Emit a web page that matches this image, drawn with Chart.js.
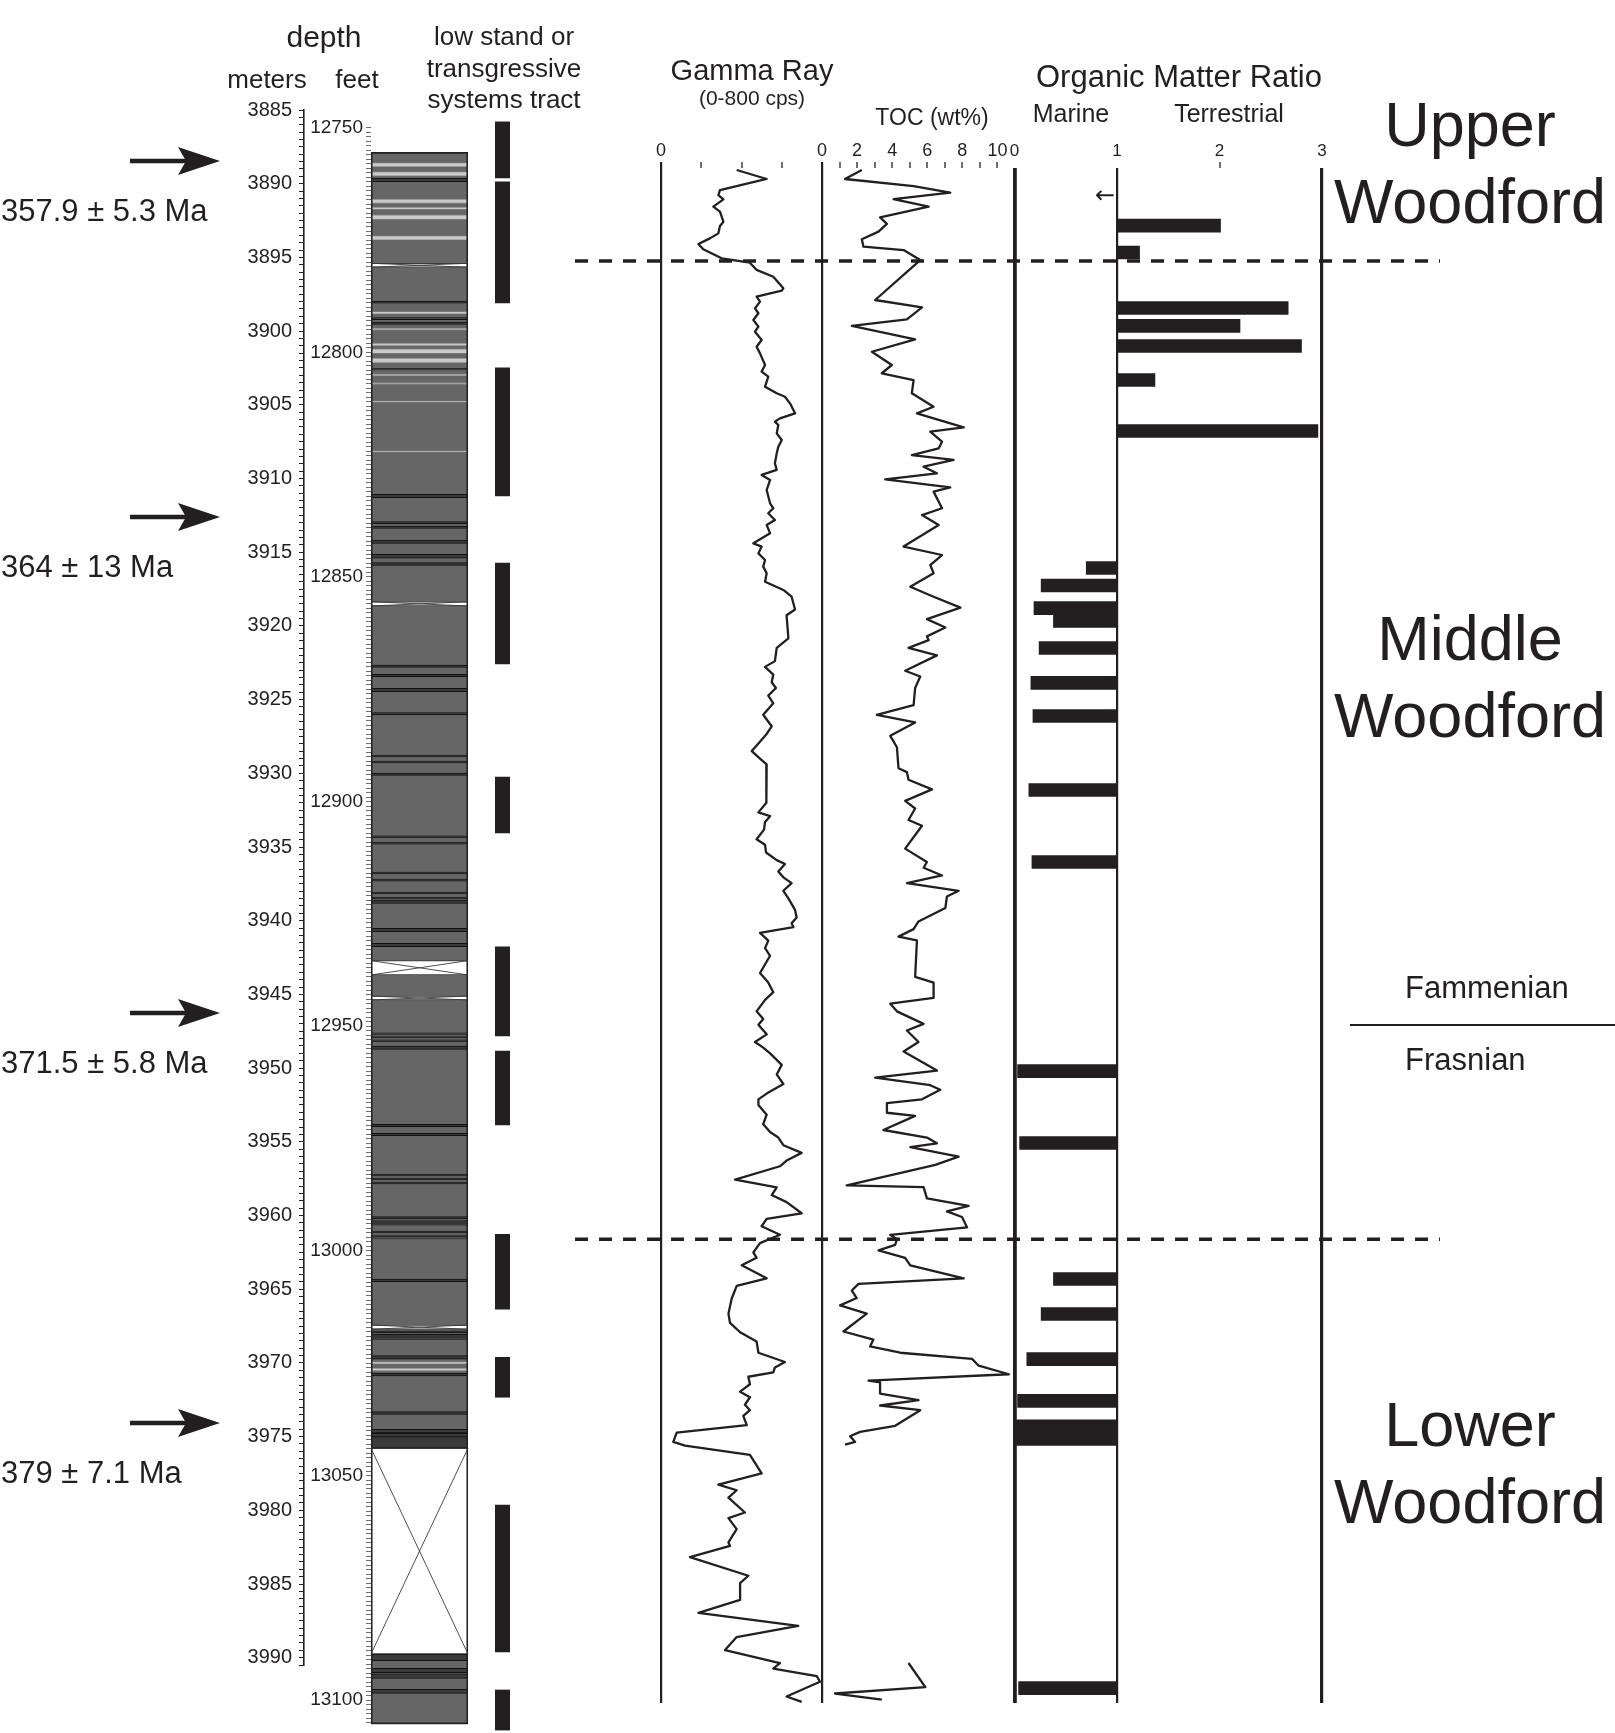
<!DOCTYPE html>
<html>
<head>
<meta charset="utf-8">
<script src="https://cdn.jsdelivr.net/npm/chart.js@4.4.1/dist/chart.umd.min.js"></script>
<style>
  html, body { margin: 0; padding: 0; background: #fff; overflow: hidden; }
  #page { position: relative; width: 1615px; height: 1733px; overflow: hidden; background: #fff; }
  #page canvas { position: absolute; top: 0; }
</style>
</head>
<body>
<div id="page">
  <canvas id="frame" width="1615" height="1800" style="left:0;width:1615px;height:1800px"></canvas>
  <canvas id="meters" width="140" height="1800" style="left:200px;width:140px;height:1800px"></canvas>
  <canvas id="lith" width="210" height="1800" style="left:280px;width:210px;height:1800px"></canvas>
  <canvas id="tract" width="65" height="1800" style="left:470px;width:65px;height:1800px"></canvas>
  <canvas id="gr" width="220" height="1800" style="left:630px;width:220px;height:1800px"></canvas>
  <canvas id="toc" width="240" height="1800" style="left:800px;width:240px;height:1800px"></canvas>
  <canvas id="om" width="360" height="1800" style="left:990px;width:360px;height:1800px"></canvas>
</div>
<script>
// ---------------- Core data (depths in metres) ----------------

// Gamma ray log (cps)
const grDepth = [3889.07,3889.68,3890.43,3890.77,3891.06,3891.56,3891.90,3892.58,3892.87,3893.37,3893.71,3894.09,3894.45,3895.06,3895.36,3895.85,3896.31,3897.10,3897.26,3897.66,3898.00,3898.46,3898.79,3899.25,3899.70,3900.04,3900.60,3901.06,3901.51,3902.30,3902.75,3903.09,3903.77,3904.22,3904.45,3904.90,3905.58,3905.92,3906.14,3906.37,3906.94,3907.39,3907.84,3908.29,3908.97,3909.42,3909.76,3910.10,3910.78,3911.68,3912.02,3912.36,3912.82,3913.15,3913.72,3914.40,3914.62,3915.08,3915.53,3915.98,3916.43,3917.00,3917.56,3918.02,3918.89,3919.28,3920.84,3921.49,3922.39,3922.78,3923.30,3923.82,3924.21,3924.73,3925.25,3926.03,3926.81,3927.33,3927.98,3928.49,3929.01,3929.40,3931.22,3932.00,3932.65,3932.91,3933.30,3933.82,3934.47,3934.85,3935.37,3935.89,3936.15,3936.67,3937.06,3937.45,3937.97,3938.49,3939.27,3939.79,3940.18,3940.44,3940.83,3941.35,3941.86,3942.38,3943.55,3944.20,3944.85,3945.37,3946.15,3946.67,3947.06,3947.71,3948.23,3948.61,3949.00,3949.78,3950.43,3951.08,3951.73,3952.12,3952.51,3953.16,3953.81,3954.33,3954.71,3955.23,3955.75,3956.27,3956.66,3957.57,3958.09,3958.61,3959.09,3959.85,3960.23,3960.73,3961.31,3961.87,3962.50,3962.87,3963.38,3964.26,3964.77,3965.65,3966.66,3967.29,3967.92,3968.55,3969.31,3969.94,3970.31,3970.64,3970.94,3971.45,3971.95,3972.33,3972.84,3973.21,3973.59,3974.22,3974.73,3975.36,3975.61,3976.24,3977.50,3978.26,3978.64,3979.14,3980.15,3980.53,3981.28,3982.17,3982.42,3983.18,3984.44,3984.94,3986.08,3986.96,3987.84,3988.60,3989.48,3990.36,3990.74,3991.25,3991.63,3992.63,3993.00];
const grCps = [376,525,293,285,310,260,293,310,293,285,243,186,210,301,442,475,558,608,600,475,492,467,484,459,484,467,500,475,492,517,500,533,517,575,616,641,666,591,566,583,575,600,583,575,566,575,500,542,525,542,558,533,566,525,542,459,500,484,517,508,525,517,608,649,666,624,633,575,566,517,558,550,571,533,558,508,550,525,484,451,492,525,522,525,484,542,517,512,475,517,522,575,616,583,608,649,608,633,666,674,649,658,492,533,517,542,492,533,558,517,475,508,484,525,467,508,542,600,575,608,525,484,484,525,508,542,583,608,699,624,591,368,575,550,624,699,525,500,591,492,459,475,401,525,376,351,335,343,393,475,484,616,566,558,434,442,393,442,417,442,409,426,78,61,119,442,500,285,376,335,417,335,376,335,343,144,434,393,393,186,682,376,318,591,558,774,790,624,699];

// Total organic carbon (wt%); null marks the unsampled interval
const tocDepth = [3889.07,3889.68,3890.16,3890.61,3891.04,3891.56,3892.28,3892.73,3893.25,3893.77,3894.27,3894.50,3895.18,3897.89,3898.39,3899.20,3899.65,3900.56,3901.40,3902.30,3902.86,3903.32,3904.22,3905.13,3905.58,3906.53,3906.82,3907.50,3907.95,3908.41,3908.74,3909.20,3909.65,3910.06,3910.60,3910.89,3912.02,3912.48,3913.15,3914.62,3915.19,3915.87,3916.43,3917.34,3918.02,3918.76,3919.54,3920.11,3920.71,3920.97,3921.49,3922.00,3923.04,3923.43,3924.21,3925.38,3926.03,3926.55,3927.46,3928.23,3929.66,3929.92,3930.44,3931.09,3931.87,3932.39,3933.17,3933.56,3935.11,3936.02,3936.41,3936.93,3937.45,3937.97,3938.36,3939.14,3940.05,3940.57,3941.08,3941.34,3943.81,3944.20,3945.24,3945.63,3946.15,3947.00,3947.45,3948.23,3948.87,3950.17,3950.64,3951.16,3951.47,3952.12,3952.38,3953.03,3953.24,3954.20,3954.71,3955.10,3955.36,3956.01,3956.57,3957.96,3958.08,3958.84,3959.34,3959.72,3960.10,3960.81,3961.31,3961.61,3961.99,3962.37,3962.87,3963.38,3964.26,3964.64,3965.09,3965.60,3966.10,3966.66,3967.87,3968.42,3968.88,3969.31,3969.73,3970.19,3970.77,3971.20,3971.32,3972.08,3972.53,3972.89,3973.21,3974.27,3974.68,3974.98,3975.36,3975.54,null,3990.36,3992.00,3992.43,3992.84];
const tocWt = [2.27,1.31,5.22,7.31,4.08,6.08,3.31,3.70,3.22,2.27,2.36,4.65,5.60,3.03,5.70,4.84,1.70,5.31,2.84,3.98,3.41,5.22,5.12,6.36,5.41,8.08,6.17,6.84,6.65,5.12,7.50,5.79,6.55,3.60,7.31,6.36,6.84,5.70,6.65,4.65,6.84,6.17,6.36,5.03,6.36,7.89,5.98,7.03,5.98,6.08,4.93,6.55,4.74,5.60,5.31,5.22,3.12,5.31,3.89,4.27,4.36,4.84,4.93,6.27,4.74,5.31,4.93,5.70,4.74,5.98,5.79,6.84,4.84,7.79,7.12,7.03,5.50,5.22,4.36,5.41,5.31,6.36,6.36,3.89,4.27,5.79,4.84,5.50,4.65,6.55,3.03,6.17,6.74,5.70,3.70,3.70,5.31,3.50,5.98,6.55,5.03,7.79,6.46,1.41,5.79,5.98,8.36,7.12,7.98,8.27,3.89,4.27,4.17,3.22,4.74,5.03,8.08,2.08,1.70,1.98,1.03,2.55,1.22,2.93,2.74,4.46,8.55,8.93,10.65,2.65,3.31,3.31,5.50,3.31,5.60,4.17,2.17,1.60,1.89,1.31,null,4.93,5.89,0.74,3.41];

// Organic matter ratio (marine < 1 < terrestrial)
const omDepth = [3892.84,3894.67,3898.43,3899.65,3901.01,3903.32,3906.78,3916.07,3917.26,3918.79,3919.67,3921.50,3923.87,3926.11,3931.13,3936.02,3950.20,3955.08,3964.31,3966.68,3969.74,3972.58,3974.31,3975.16,3992.06];
const omRatio = [2.01,1.22,2.67,2.20,2.80,1.37,2.96,0.70,0.26,0.19,0.38,0.24,0.16,0.18,0.14,0.17,0.03,0.05,0.38,0.26,0.12,0.03,0.00,0.00,0.04];
const omOffscaleDepth = 3890.90;

// Lithology column: cored interval and bands [top, base]
const coreInterval = [3887.87, 3994.50];
const lightBands = [[3888.58,3888.85],[3889.19,3889.48],[3891.06,3891.33],[3891.60,3891.74],[3892.12,3892.42],[3893.53,3893.82],[3898.68,3898.84],[3899.81,3899.93],[3900.83,3900.99],[3901.21,3901.51],[3901.85,3902.14],[3902.91,3903.03],[3903.50,3903.61],[3904.74,3904.83],[3908.13,3908.22],[3969.92,3970.07],[3970.37,3970.53]];
const darkBands = [[3889.63,3889.86],[3897.96,3898.11],[3899.09,3899.22],[3899.38,3899.54],[3902.52,3902.64],[3911.07,3911.30],[3912.93,3913.07],[3913.22,3913.38],[3914.17,3914.40],[3915.14,3915.41],[3915.71,3915.89],[3922.65,3922.81],[3923.28,3923.45],[3924.23,3924.46],[3925.88,3926.04],[3928.76,3928.89],[3929.17,3929.30],[3929.98,3930.15],[3934.25,3934.39],[3934.66,3934.80],[3936.70,3936.83],[3937.17,3937.31],[3938.05,3938.19],[3938.39,3938.53],[3938.60,3938.82],[3940.52,3940.75],[3941.53,3941.76],[3947.60,3947.72],[3947.82,3947.95],[3948.09,3948.21],[3948.50,3948.73],[3953.81,3953.98],[3954.42,3954.59],[3957.19,3957.32],[3957.46,3957.59],[3957.73,3957.86],[3960.08,3960.24],[3960.34,3960.47],[3960.54,3960.65],[3961.05,3961.19],[3961.32,3961.45],[3961.52,3961.59],[3964.31,3964.49],[3967.82,3967.97],[3968.07,3968.21],[3968.28,3968.40],[3969.51,3969.74],[3970.71,3970.89],[3973.31,3973.49],[3974.51,3974.75],[3974.78,3975.02],[3975.06,3975.79],[3989.75,3990.20],[3990.72,3991.02],[3991.10,3991.40],[3992.14,3992.42]];
const missingCore = [[3895.40,3895.67],[3918.36,3918.65],[3942.71,3943.68],[3945.11,3945.38],[3967.43,3967.72],[3975.79,3989.75]];

// Low stand / transgressive systems tract intervals
const tractIntervals = [[3885.81,3889.61],[3889.88,3898.09],[3902.50,3911.19],[3915.73,3922.58],[3930.25,3934.05],[3941.78,3947.82],[3948.84,3953.86],[3961.27,3966.36],[3969.62,3972.33],[3979.64,3989.61],[3992.19,3994.91]];

// Formation boundaries, stage boundary and dated horizons
const boundaryDepth = [3895.24, 3961.61];
const stageBoundaryDepth = 3947.08;
const ageDepth = [3888.46, 3912.61, 3946.26, 3974.08];
const ageLabel = ['357.9 ± 5.3 Ma', '364 ± 13 Ma', '371.5 ± 5.8 Ma', '379 ± 7.1 Ma'];

// ---------------- Layout ----------------
const FONT = "'Liberation Sans', Arial, Helvetica, sans-serif";
const INK = '#231f20';
const NONE = 'rgba(0,0,0,0)';
const CANVAS_H = 1800;
const Y_REF = 110, DEPTH_REF = 3885, PX_PER_M = 14.74;
const M_TO_FT = 1 / 0.3048;
const depthAt = y => DEPTH_REF + (y - Y_REF) / PX_PER_M;
const TRACK_TOP = 168, TRACK_BOTTOM = 1703, AXIS_H = 38;

Chart.defaults.font.family = FONT;
Chart.defaults.color = INK;
Chart.defaults.animation = false;
Chart.defaults.events = [];
Chart.defaults.plugins.legend.display = false;
Chart.defaults.plugins.tooltip.enabled = false;

function depthAxis(top, bottom, extra) {
  return Object.assign({
    type: 'linear', axis: 'y', reverse: true, offset: false, display: false,
    min: depthAt(top), max: depthAt(bottom)
  }, extra || {});
}

function trackAxis(min, max, step, fontSize, labelFn, lineFn, tickFn) {
  const val = c => (c && c.tick ? Math.round(c.tick.value * 1000) / 1000 : NaN);
  return {
    type: 'linear', position: 'top', min, max, offset: false,
    afterFit: s => { s.height = AXIS_H; },
    border: { display: false },
    grid: {
      drawOnChartArea: true, drawTicks: true, tickLength: 6,
      lineWidth: c => lineFn(val(c)) || 0,
      color: c => (lineFn(val(c)) ? INK : NONE),
      tickWidth: c => tickFn(val(c)) || 0,
      tickColor: c => (tickFn(val(c)) ? INK : NONE)
    },
    ticks: {
      stepSize: step, autoSkip: false, maxRotation: 0, padding: 0, includeBounds: false,
      font: { size: fontSize }, color: INK,
      callback: v => labelFn(Math.round(v * 1000) / 1000)
    }
  };
}

function opts(padding, scales, extra) {
  return Object.assign({ responsive: false, devicePixelRatio: 1, layout: { padding }, scales }, extra || {});
}

// ---------------- Page frame: headings, boundaries, dated horizons ----------------
const headings = [
  ['depth', 324, 47, 30, 'center'],
  ['meters', 267, 88, 26, 'center'],
  ['feet', 357, 88, 26, 'center'],
  ['low stand or', 504, 45, 26, 'center'],
  ['transgressive', 504, 77, 26, 'center'],
  ['systems tract', 504, 108, 26, 'center'],
  ['Gamma Ray', 752, 80, 29, 'center'],
  ['(0-800 cps)', 752, 105, 21, 'center'],
  ['TOC (wt%)', 932, 125, 23, 'center'],
  ['Organic Matter Ratio', 1179, 87, 31, 'center'],
  ['Marine', 1071, 122, 25, 'center'],
  ['Terrestrial', 1229, 122, 25, 'center'],
  ['Upper', 1470, 146, 63, 'center'],
  ['Woodford', 1470, 223, 63, 'center'],
  ['Middle', 1470, 660, 63, 'center'],
  ['Woodford', 1470, 737, 63, 'center'],
  ['Lower', 1470, 1446, 63, 'center'],
  ['Woodford', 1470, 1523, 63, 'center'],
  ['Fammenian', 1405, 998, 31, 'left'],
  ['Frasnian', 1405, 1070, 31, 'left']
];

const frameDecor = {
  id: 'frameDecor',
  afterDraw(chart) {
    const ctx = chart.ctx, ys = chart.scales.y;
    ctx.save();
    ctx.fillStyle = INK;
    ctx.strokeStyle = INK;
    ctx.textBaseline = 'alphabetic';
    headings.forEach(([t, x, y, size, align]) => {
      ctx.font = size + 'px ' + FONT;
      ctx.textAlign = align;
      ctx.fillText(t, x, y);
    });

    // formation boundaries (dashed)
    ctx.lineWidth = 3.5;
    ctx.setLineDash([13, 11]);
    boundaryDepth.forEach(d => {
      const y = ys.getPixelForValue(d);
      ctx.beginPath();
      ctx.moveTo(575, y);
      ctx.lineTo(1440, y);
      ctx.stroke();
    });
    ctx.setLineDash([]);

    // Famennian / Frasnian boundary
    const ys2 = ys.getPixelForValue(stageBoundaryDepth);
    ctx.lineWidth = 2;
    ctx.beginPath();
    ctx.moveTo(1350, ys2);
    ctx.lineTo(1615, ys2);
    ctx.stroke();

    // dated horizons: arrow + age
    ageDepth.forEach((d, i) => {
      const y = ys.getPixelForValue(d);
      ctx.lineWidth = 4.5;
      ctx.beginPath();
      ctx.moveTo(130, y);
      ctx.lineTo(192, y);
      ctx.stroke();
      ctx.beginPath();
      ctx.moveTo(220, y);
      ctx.lineTo(178, y - 14);
      ctx.lineTo(186, y);
      ctx.lineTo(178, y + 14);
      ctx.closePath();
      ctx.fill();
      ctx.font = '31px ' + FONT;
      ctx.textAlign = 'left';
      ctx.fillText(ageLabel[i], 1, y + 60);
    });
    ctx.restore();
  }
};

new Chart(document.getElementById('frame'), {
  type: 'scatter',
  data: { datasets: [] },
  options: opts({ top: 0, bottom: 0, left: 0, right: 0 }, {
    x: { type: 'linear', min: 0, max: 1615, display: false },
    y: depthAxis(0, CANVAS_H)
  }),
  plugins: [frameDecor]
});

// ---------------- Metre scale ----------------
const M_TOP = Y_REF, M_BOTTOM = Y_REF + (3990.5 - DEPTH_REF) * PX_PER_M;
new Chart(document.getElementById('meters'), {
  type: 'scatter',
  data: { datasets: [] },
  options: opts({ top: M_TOP, bottom: CANVAS_H - M_BOTTOM, left: 0, right: 30 }, {
    x: { type: 'linear', display: false, min: 0, max: 1 },
    y: depthAxis(M_TOP, M_BOTTOM, {
      display: true, position: 'left',
      min: 3885, max: 3990.5,
      afterFit: s => { s.width = 104; },
      border: { display: true, color: INK, width: 1.6 },
      grid: { drawOnChartArea: false, drawTicks: true, tickLength: 5, tickColor: INK, tickWidth: 1 },
      ticks: {
        stepSize: 0.5, autoSkip: false, includeBounds: false, padding: 7,
        font: { size: 20 }, color: INK,
        callback: v => (Math.abs(v / 5 - Math.round(v / 5)) < 1e-6 ? String(Math.round(v)) : '')
      }
    })
  })
});

// ---------------- Feet scale + lithology column ----------------
const L_TOP = 125, L_BOTTOM = 1727;
const bandSet = (label, bands, order, style) => Object.assign({
  label, order, xAxisID: 'x', yAxisID: 'm',
  data: bands.map(b => ({ x: 'core', y: b })),
  borderSkipped: false, grouped: false, barPercentage: 1, categoryPercentage: 1
}, style);

const missingCross = {
  id: 'missingCross',
  afterDatasetsDraw(chart) {
    const idx = chart.data.datasets.findIndex(d => d.label === 'missing core');
    const meta = chart.getDatasetMeta(idx);
    const ctx = chart.ctx;
    ctx.save();
    ctx.strokeStyle = '#3a3a3a';
    ctx.lineWidth = 0.9;
    meta.data.forEach(el => {
      const p = el.getProps(['x', 'y', 'base', 'width'], true);
      const l = p.x - p.width / 2, r = p.x + p.width / 2;
      const t = Math.min(p.y, p.base), b = Math.max(p.y, p.base);
      ctx.beginPath();
      ctx.moveTo(l, t); ctx.lineTo(r, b);
      ctx.moveTo(r, t); ctx.lineTo(l, b);
      ctx.stroke();
    });
    ctx.restore();
  }
};

new Chart(document.getElementById('lith'), {
  type: 'bar',
  data: {
    labels: ['core'],
    datasets: [
      bandSet('outline', [coreInterval], 0, { backgroundColor: NONE, borderColor: INK, borderWidth: 1.2 }),
      bandSet('missing core', missingCore, 1, { backgroundColor: '#ffffff', borderColor: '#3a3a3a', borderWidth: { top: 1, bottom: 1, left: 0, right: 0 } }),
      bandSet('dark shale', darkBands, 2, { backgroundColor: '#3b3b3b', borderColor: '#111111', borderWidth: { top: 1, bottom: 1, left: 0, right: 0 } }),
      bandSet('light bed', lightBands, 3, { backgroundColor: '#c9c9c9', borderColor: '#8a8a8a', borderWidth: { top: 0.8, bottom: 0.8, left: 0, right: 0 } }),
      bandSet('shale', [coreInterval], 4, { backgroundColor: '#666666', borderWidth: 0 })
    ]
  },
  options: opts({ top: L_TOP, bottom: CANVAS_H - L_BOTTOM, left: 0, right: 22 }, {
    x: { type: 'category', display: false, offset: true },
    m: depthAxis(L_TOP, L_BOTTOM),
    ft: {
      type: 'linear', axis: 'y', position: 'left', reverse: true, offset: false,
      min: depthAt(L_TOP) * M_TO_FT, max: depthAt(L_BOTTOM) * M_TO_FT,
      afterFit: s => { s.width = 91; },
      border: { display: false },
      grid: { drawOnChartArea: false, drawTicks: true, tickLength: 5, tickColor: '#6e6e6e', tickWidth: 1 },
      ticks: {
        stepSize: 1, autoSkip: false, includeBounds: false, padding: 3,
        font: { size: 19 }, color: INK,
        callback: v => (Math.round(v) % 50 === 0 ? String(Math.round(v)) : '')
      }
    }
  }),
  plugins: [missingCross]
});

// ---------------- Systems tract ----------------
new Chart(document.getElementById('tract'), {
  type: 'bar',
  data: {
    labels: ['tract'],
    datasets: [{
      label: 'systems tract', xAxisID: 'x', yAxisID: 'm',
      data: tractIntervals.map(b => ({ x: 'tract', y: b })),
      backgroundColor: INK, borderWidth: 0, grouped: false, barPercentage: 1, categoryPercentage: 1
    }]
  },
  options: opts({ top: 0, bottom: 0, left: 25, right: 25 }, {
    x: { type: 'category', display: false, offset: true },
    m: depthAxis(0, CANVAS_H)
  })
});

// ---------------- Gamma ray track ----------------
const trackPad = (left, right) => ({ top: TRACK_TOP - AXIS_H, bottom: CANVAS_H - TRACK_BOTTOM, left, right });

new Chart(document.getElementById('gr'), {
  type: 'scatter',
  data: {
    datasets: [{
      label: 'Gamma Ray',
      data: grDepth.map((d, i) => ({ x: grCps[i], y: d })),
      showLine: true, borderColor: INK, borderWidth: 2.3, pointRadius: 0,
      borderJoinStyle: 'round', tension: 0
    }]
  },
  options: opts(trackPad(31, 28), {
    x: trackAxis(0, 800, 200, 18,
      v => (v === 0 ? '0' : ''),
      v => (v === 0 || v === 800 ? 2.2 : 0),
      v => (v === 0 || v === 800 ? 2.2 : 1.3)),
    y: depthAxis(TRACK_TOP, TRACK_BOTTOM)
  })
});

// ---------------- TOC track ----------------
new Chart(document.getElementById('toc'), {
  type: 'scatter',
  data: {
    datasets: [{
      label: 'TOC',
      data: tocDepth.map((d, i) => ({ x: tocWt[i], y: d })),
      showLine: true, spanGaps: false, borderColor: INK, borderWidth: 2.3, pointRadius: 0,
      borderJoinStyle: 'round', tension: 0
    }]
  },
  options: opts(trackPad(22, 25), {
    x: trackAxis(0, 11, 1, 18,
      v => (v % 2 === 0 && v <= 10 ? String(v) : ''),
      v => 0,
      v => (v > 0 && v < 11 ? 1.3 : 0)),
    y: depthAxis(TRACK_TOP, TRACK_BOTTOM)
  })
});

// ---------------- Organic matter ratio track ----------------
const omArrow = {
  id: 'omArrow',
  afterDraw(chart) {
    const ctx = chart.ctx;
    const x = chart.scales.x.getPixelForValue(1) - 2;
    const y = chart.scales.y.getPixelForValue(omOffscaleDepth);
    ctx.save();
    ctx.fillStyle = INK;
    ctx.font = "24px 'DejaVu Sans', sans-serif";
    ctx.textAlign = 'right';
    ctx.textBaseline = 'middle';
    ctx.fillText('←', x, y);
    ctx.restore();
  }
};

new Chart(document.getElementById('om'), {
  type: 'bar',
  data: {
    datasets: [{
      label: 'Organic Matter Ratio',
      data: omDepth.map((d, i) => ({ y: d, x: [1, omRatio[i]] })),
      backgroundColor: INK, borderWidth: 0, barThickness: 13, grouped: false
    }]
  },
  options: opts(trackPad(24.5, 28), {
    x: trackAxis(0, 3, 1, 17,
      v => String(v),
      v => ({ 0: 3.8, 1: 2.2, 3: 3.2 })[v] || 0,
      v => (v === 2 ? 1.3 : 0)),
    y: depthAxis(TRACK_TOP, TRACK_BOTTOM)
  }, { indexAxis: 'y' }),
  plugins: [omArrow]
});
</script>
</body>
</html>
